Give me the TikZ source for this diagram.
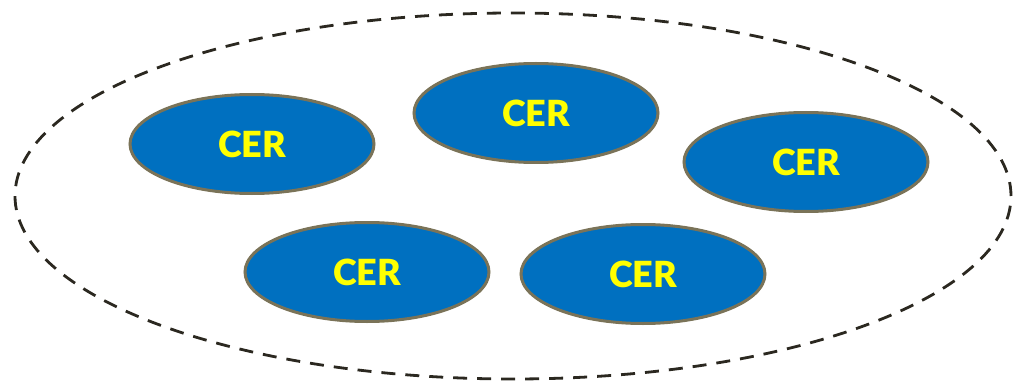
\documentclass[tikz,border=0pt]{standalone}
\usepackage{fontspec}
\setmainfont{Lato}[BoldFont={Lato Black}]
\usetikzlibrary{shapes.geometric}
\definecolor{cerblue}{HTML}{0070C0}
\definecolor{cerborder}{HTML}{7A7358}
\definecolor{cerdash}{HTML}{2B2820}
\definecolor{ceryellow}{HTML}{FFFF00}
\begin{document}
\begin{tikzpicture}[x=1pt,y=-1pt,
  cer/.style={ellipse, draw=cerborder, line width=3pt, fill=cerblue,
    minimum width=244pt, minimum height=99pt, inner sep=0pt,
    text=ceryellow, font=\fontsize{36}{36}\selectfont\bfseries},
  group/.style={ellipse, draw=cerdash, line width=2.8pt, dash pattern=on 14pt off 10pt,
    minimum width=996pt, minimum height=366pt, inner sep=0pt}]
\useasboundingbox (0,0) rectangle (1015,385);
\node[group] (grp) at (513,196) {};
\node[cer] (c1) at (252,144) {CER};
\node[cer] (c2) at (536,113) {CER};
\node[cer] (c3) at (806,162) {CER};
\node[cer] (c4) at (367,272) {CER};
\node[cer] (c5) at (643,274) {CER};
\end{tikzpicture}
\end{document}
